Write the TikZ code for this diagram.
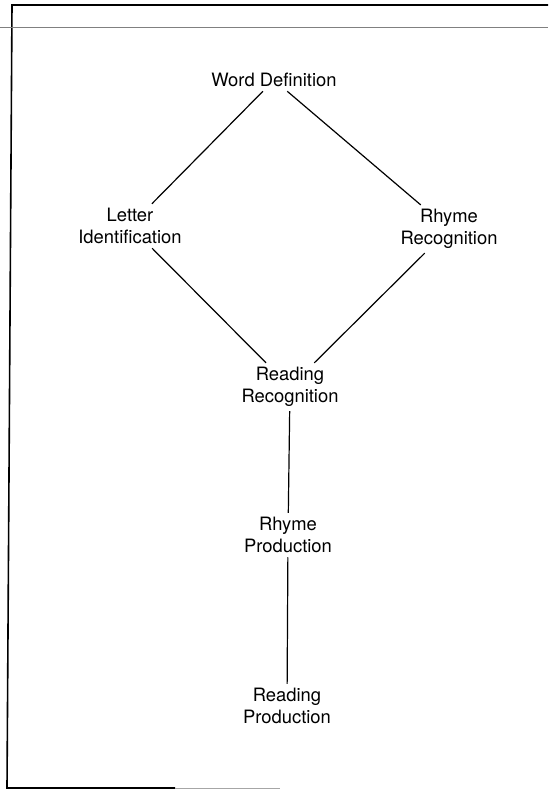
\documentclass[tikz,border=0pt]{standalone}
\usepackage{fontspec}
\setmainfont{TeX Gyre Heros}
\usepackage{tikz}

\tikzset{
  skill/.style={align=center,inner sep=2pt,font=\fontsize{9.2}{11}\selectfont},
  link/.style={line width=0.6pt}
}

\begin{document}
\begin{tikzpicture}[x=0.5pt,y=-0.5pt]
\useasboundingbox (0,0) rectangle (548,790);
\draw[line width=0.8pt] (548,5) -- (12,5) -- (7,788) -- (175,788);
\draw[gray!70,line width=0.5pt] (175,788) -- (280,788);
\draw[gray,line width=0.5pt] (0,28) -- (548,28);

\node[skill] (word) at (274,80) {Word Definition};
\node[skill] (letter) at (130,226) {Letter\\Identification};
\node[skill] (rhymerec) at (449,229) {Rhyme\\Recognition};
\node[skill] (readrec) at (290,387) {Reading\\Recognition};
\node[skill] (rhymeprod) at (288,535) {Rhyme\\Production};
\node[skill] (readprod) at (287,706) {Reading\\Production};

\draw[link] (word) -- (letter);
\draw[link] (word) -- (rhymerec);
\draw[link] (letter) -- (readrec);
\draw[link] (rhymerec) -- (readrec);
\draw[link] (readrec) -- (rhymeprod);
\draw[link] (rhymeprod) -- (readprod);
\end{tikzpicture}
\end{document}
